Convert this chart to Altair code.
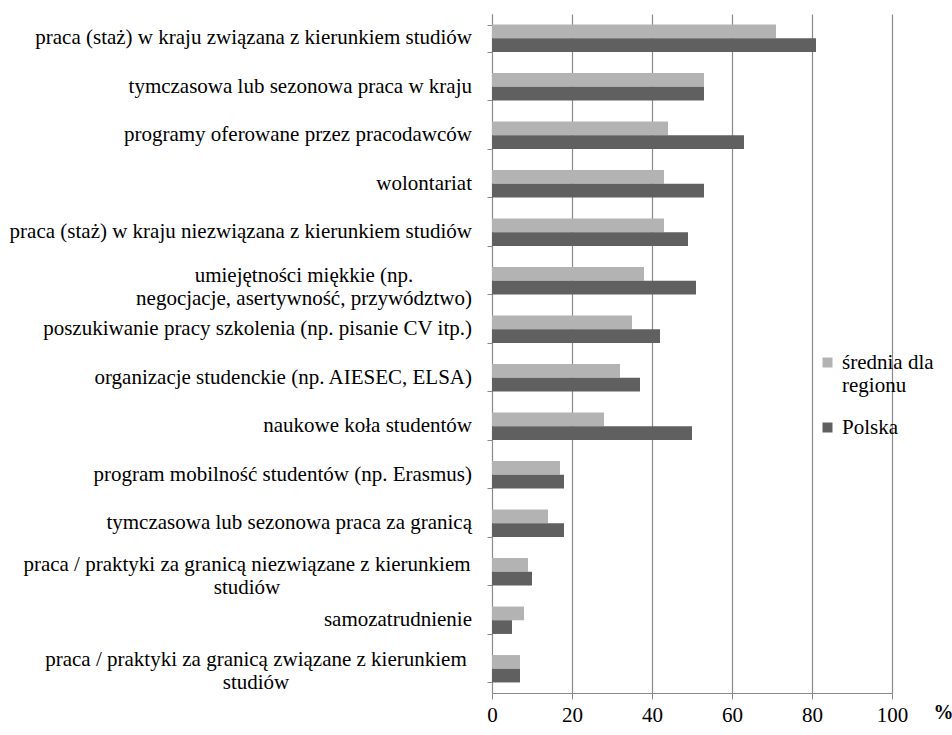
import altair as alt
import pandas as pd

# Activities, listed top to bottom; "\n" marks a line break in the label
categories = [
    "praca (staż) w kraju związana z kierunkiem studiów",
    "tymczasowa lub sezonowa praca w kraju",
    "programy oferowane przez pracodawców",
    "wolontariat",
    "praca (staż) w kraju niezwiązana z kierunkiem studiów",
    "umiejętności miękkie (np.\nnegocjacje, asertywność, przywództwo)",
    "poszukiwanie pracy szkolenia (np. pisanie CV itp.)",
    "organizacje studenckie (np. AIESEC, ELSA)",
    "naukowe koła studentów",
    "program mobilność studentów (np. Erasmus)",
    "tymczasowa lub sezonowa praca za granicą",
    "praca / praktyki za granicą niezwiązane z kierunkiem\nstudiów",
    "samozatrudnienie",
    "praca / praktyki za granicą związane z kierunkiem\nstudiów",
]

series = ["średnia dla regionu", "Polska"]

region_avg = [71, 53, 44, 43, 43, 38, 35, 32, 28, 17, 14, 9, 8, 7]
poland = [81, 53, 63, 53, 49, 51, 42, 37, 50, 18, 18, 10, 5, 7]

rows = []
for cat, r, p in zip(categories, region_avg, poland):
    rows.append({"kategoria": cat, "seria": series[0], "wartosc": r})
    rows.append({"kategoria": cat, "seria": series[1], "wartosc": p})
df = pd.DataFrame(rows)
labels_df = pd.DataFrame({"kategoria": categories})

FONT = "'Liberation Serif', 'Times New Roman', serif"
GRID = "#8a8a8a"
Y_SCALE = alt.Scale(domain=categories, paddingInner=0.435, paddingOuter=0.2175)

bars = (
    alt.Chart(df)
    .mark_bar()
    .encode(
        y=alt.Y(
            "kategoria:N",
            sort=categories,
            scale=Y_SCALE,
            axis=alt.Axis(
                title=None,
                labels=False,
                tickBand="extent",
                tickSize=5,
                tickColor=GRID,
                domainColor=GRID,
                grid=False,
            ),
        ),
        yOffset=alt.YOffset("seria:N", sort=series, scale=alt.Scale(paddingInner=0, paddingOuter=0)),
        x=alt.X(
            "wartosc:Q",
            scale=alt.Scale(domain=[0, 100], nice=False),
            axis=alt.Axis(
                title="%",
                titleFont=FONT,
                titleFontSize=20,
                titleFontWeight="bold",
                titleColor="#000000",
                titleAngle=0,
                titleX=451,
                titleY=19,
                titleAlign="center",
                titleBaseline="middle",
                values=[0, 20, 40, 60, 80, 100],
                labelFont=FONT,
                labelFontSize=21,
                labelColor="#000000",
                labelPadding=5,
                labelFlush=False,
                tickSize=6,
                tickColor=GRID,
                domainColor=GRID,
                grid=True,
                gridColor=GRID,
                gridWidth=1.2,
            ),
        ),
        color=alt.Color(
            "seria:N",
            sort=series,
            scale=alt.Scale(domain=series, range=["#b3b3b3", "#606060"]),
            legend=alt.Legend(
                title=None,
                orient="none",
                legendX=325,
                legendY=338,
                padding=0,
                symbolType="square",
                symbolSize=100,
                symbolStrokeWidth=0,
                labelFont=FONT,
                labelFontSize=21,
                labelColor="#000000",
                labelOffset=4,
                labelExpr="datum.value == 'średnia dla regionu' ? ['średnia dla', 'regionu'] : datum.value",
                labelBaseline="middle",
                labelLimit=300,
                rowPadding=20,
            ),
        ),
    )
)


def label_layer(test, align, xpos, dy=0):
    """Category names drawn beside the axis; multi-line names are centred line by line."""
    return (
        alt.Chart(labels_df)
        .transform_filter(test)
        .mark_text(
            align=align,
            baseline="middle",
            lineBreak="\n",
            lineHeight=23,
            font=FONT,
            fontSize=21,
            color="#000000",
            dy=dy,
        )
        .encode(
            y=alt.Y("kategoria:N", sort=categories, scale=Y_SCALE),
            x=alt.value(xpos),
            text="kategoria:N",
        )
    )


single = label_layer("indexof(datum.kategoria, '\\n') < 0", "right", -20)
multi_a = label_layer("indexof(datum.kategoria, 'umiejętności') >= 0", "center", -188, -5)
multi_b = label_layer("indexof(datum.kategoria, 'niezwiązane z kierunkiem\\n') >= 0", "center", -245, -7)
multi_c = label_layer("indexof(datum.kategoria, 'granicą związane') >= 0", "center", -236, -9)

chart = (
    alt.layer(bars, single, multi_a, multi_b, multi_c)
    .properties(
        width=400,
        height=679,
        autosize=alt.AutoSizeParams(type="none"),
        padding={"left": 492, "top": 14, "right": 60, "bottom": 42},
    )
    .configure_view(stroke=None)
)

chart.save("out.html", embed_options={"renderer": "svg", "actions": False})
